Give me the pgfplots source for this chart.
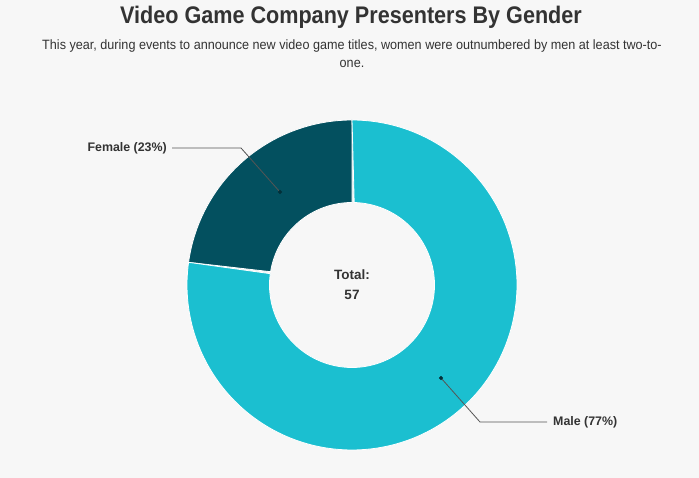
\documentclass[border=0pt]{standalone}
\usepackage{pgfplots}
\pgfplotsset{compat=1.18}
\usepackage{pgfplotstable}
\usepackage{fontspec}
\setmainfont{Liberation Sans}
\newfontfamily\titlefont[FakeStretch=0.9]{Liberation Sans}
\newfontfamily\subfont[FakeStretch=0.935]{Liberation Sans}
\definecolor{bg}{HTML}{F7F7F7}
\definecolor{female}{HTML}{03505F}
\definecolor{male}{HTML}{1BBFD0}
\definecolor{txt}{HTML}{333333}
\definecolor{lead}{HTML}{555555}
\pgfplotstableread{
label value
Female 13
Male 44
}\gender
\pgfplotstablegetelem{0}{value}\of\gender \let\vF\pgfplotsretval
\pgfplotstablegetelem{1}{value}\of\gender \let\vM\pgfplotsretval
\pgfmathsetmacro\total{\vF+\vM}
\pgfmathsetmacro\aF{360*\vF/\total}
\pgfmathsetmacro\aM{360*\vM/\total}
\pgfmathsetmacro\sM{90+\aF}
\begin{document}
\begin{tikzpicture}
\fill[bg] (0,0) rectangle (699pt,478pt);
\begin{axis}[
  at={(0pt,0pt)}, anchor=south west,
  x=1pt, y=1pt, scale only axis,
  xmin=-352, xmax=347, ymin=-193, ymax=285,
  hide axis, clip=false,
]
% Female sector
\addplot[fill=female, draw=white, line width=0.8pt, domain=0:2, samples=121, variable=\t]
 ({ifthenelse(\t<=1, 165*cos(90+\aF*\t), 82.5*cos(90+\aF*(2-\t)))},
  {ifthenelse(\t<=1, 165*sin(90+\aF*\t), 82.5*sin(90+\aF*(2-\t)))}) -- cycle;
% Male sector
\addplot[fill=male, draw=white, line width=0.8pt, domain=0:2, samples=361, variable=\t]
 ({ifthenelse(\t<=1, 165*cos(\sM+\aM*\t), 82.5*cos(\sM+\aM*(2-\t)))},
  {ifthenelse(\t<=1, 165*sin(\sM+\aM*\t), 82.5*sin(\sM+\aM*(2-\t)))}) -- cycle;
% leader lines
\addplot[lead, line width=0.8pt, mark=none] coordinates {(-72,93) (-111,137) (-180,137)};
\addplot[lead, line width=0.8pt, mark=none] coordinates {(89,-93) (128,-137) (195,-137)};
\addplot[only marks, mark=*, mark size=1.8pt, color=female!60!black] coordinates {(-72,93) (89,-93)};
% labels
\node[anchor=east, text=txt, font=\fontsize{12.4}{14}\selectfont\bfseries, inner sep=0pt] at (axis cs:-185,137) {Female (23\%)};
\node[anchor=west, text=txt, font=\fontsize{12.4}{14}\selectfont\bfseries, inner sep=0pt] at (axis cs:201,-137) {Male (77\%)};
\node[text=txt, font=\fontsize{13.5}{19}\selectfont\bfseries, align=center, inner sep=0pt] at (axis cs:0,0) {Total:\\[1pt]57};
% title and subtitle
\node[anchor=base, text=txt, font=\titlefont\fontsize{24}{28}\selectfont\bfseries, inner sep=0pt] at (axis cs:-1,261) {Video Game Company Presenters By Gender};
\node[anchor=base, text=txt, font=\subfont\fontsize{13.5}{18}\selectfont, inner sep=0pt] at (axis cs:0,235) {This year, during events to announce new video game titles, women were outnumbered by men at least two-to-};
\node[anchor=base, text=txt, font=\subfont\fontsize{13.5}{18}\selectfont, inner sep=0pt] at (axis cs:0,217) {one.};
\end{axis}
\end{tikzpicture}
\end{document}
